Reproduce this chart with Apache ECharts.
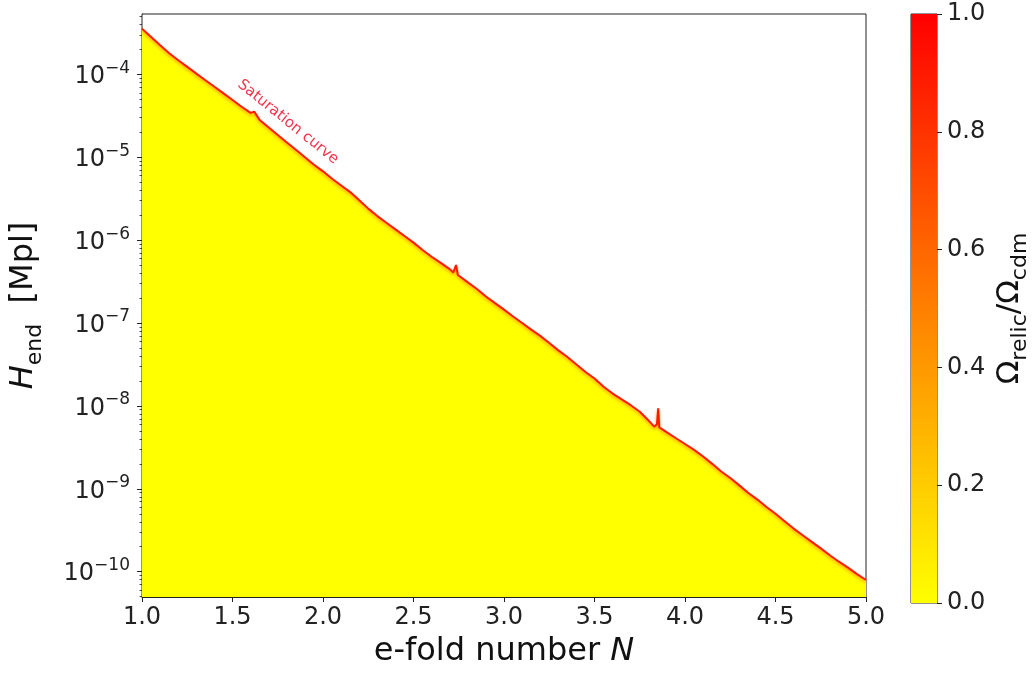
<!DOCTYPE html>
<html>
<head>
<meta charset="utf-8">
<script src="https://cdn.jsdelivr.net/npm/echarts@6/dist/echarts.min.js"></script>
<style>
html,body{margin:0;padding:0;background:#fff;}
#chart{width:1032px;height:673px;}
</style>
</head>
<body>
<div id="chart"></div>
<script>
// e-fold number N (x) and saturation curve H_end [Mpl] (y)
const efoldN = [1.00,1.05,1.10,1.15,1.20,1.25,1.30,1.35,1.40,1.45,1.50,1.55,1.60,1.62,1.65,1.70,1.75,1.80,1.85,1.90,1.95,
  2.00,2.05,2.10,2.15,2.20,2.25,2.30,2.35,2.40,2.45,2.50,2.55,2.60,2.65,2.70,2.72,2.735,2.745,2.80,2.85,2.90,2.95,
  3.00,3.05,3.10,3.15,3.20,3.25,3.30,3.35,3.40,3.45,3.50,3.55,3.60,3.65,3.70,3.75,3.80,3.83,3.845,3.852,3.858,3.90,3.95,
  4.00,4.05,4.10,4.15,4.20,4.25,4.30,4.35,4.40,4.45,4.50,4.55,4.60,4.65,4.70,4.75,4.80,4.85,4.90,4.95,5.00];
const hEnd = [3.55e-4,2.82e-4,2.24e-4,1.80e-4,1.48e-4,1.23e-4,1.02e-4,8.5e-5,7.08e-5,5.89e-5,4.90e-5,4.07e-5,3.43e-5,3.55e-5,2.82e-5,2.29e-5,1.86e-5,1.51e-5,1.23e-5,1.00e-5,8.13e-6,
  6.76e-6,5.50e-6,4.57e-6,3.80e-6,3.02e-6,2.40e-6,1.95e-6,1.62e-6,1.35e-6,1.12e-6,9.33e-7,7.59e-7,6.31e-7,5.31e-7,4.47e-7,4.07e-7,5.01e-7,3.80e-7,3.09e-7,2.57e-7,2.09e-7,1.74e-7,
  1.45e-7,1.20e-7,1.00e-7,8.32e-8,7.00e-8,5.75e-8,4.68e-8,3.89e-8,3.16e-8,2.57e-8,2.14e-8,1.70e-8,1.41e-8,1.20e-8,1.02e-8,8.51e-9,6.61e-9,5.62e-9,6.0e-9,9.33e-9,5.50e-9,4.79e-9,4.07e-9,
  3.47e-9,2.95e-9,2.45e-9,2.00e-9,1.62e-9,1.35e-9,1.10e-9,8.91e-10,7.41e-10,6.03e-10,5.01e-10,4.07e-10,3.31e-10,2.75e-10,2.29e-10,1.91e-10,1.58e-10,1.32e-10,1.12e-10,9.33e-11,7.94e-11];

const xRange = [1.0, 5.0];
const yRange = [4.95e-11, 5.35e-4];
const yMajorTicks = [1e-10,1e-9,1e-8,1e-7,1e-6,1e-5,1e-4];
const yMinorMultipliers = [2,3,4,5,6,7,8,9];
const colorbarRange = [0, 1];
const colorbarTicks = [0.0,0.2,0.4,0.6,0.8,1.0];
const curveLabel = 'Saturation curve';

const yMinorTicks = [];
yMajorTicks.concat([1e-11]).forEach(function(d){
  yMinorMultipliers.forEach(function(m){
    const v = m*d;
    if (v > yRange[0] && v < yRange[1]) yMinorTicks.push(v);
  });
});

const FONT = 'DejaVu Sans';
const curveData = efoldN.map(function(n,i){return [n, hEnd[i]];});

function supLabel(v){
  const e = Math.round(Math.log10(v));
  return '{b|10}{s|' + (e<0?'\u2212':'') + Math.abs(e) + '}';
}

const chart = echarts.init(document.getElementById('chart'), null, {renderer:'canvas'});
chart.setOption({
  animation:false,
  backgroundColor:'#fff',
  textStyle:{fontFamily:FONT},
  grid:[
    {left:141, right:166, top:14, bottom:69, show:true, borderColor:'#222', borderWidth:1, backgroundColor:'#fff', z:3},
    {left:911, width:30, top:14, bottom:70, show:true, borderColor:'#222', borderWidth:1}
  ],
  xAxis:[
    {type:'value', gridIndex:0, min:xRange[0], max:xRange[1], interval:0.5,
     axisLine:{show:true, onZero:false, lineStyle:{color:'#222', width:1}},
     axisTick:{show:true, length:5, lineStyle:{color:'#222'}},
     splitLine:{show:false},
     axisLabel:{margin:9, fontSize:24, color:'#222', fontFamily:FONT, formatter:function(v){return v.toFixed(1);}},
     name:'e-fold number {i|N}', nameLocation:'middle', nameGap:39,
     nameTextStyle:{fontSize:32, color:'#111', fontFamily:FONT, rich:{i:{fontSize:32, fontStyle:'italic', fontFamily:FONT, color:'#111'}}}
    },
    {type:'category', gridIndex:1, data:['c'], show:false, boundaryGap:true}
  ],
  yAxis:[
    {type:'log', gridIndex:0, logBase:10, min:yRange[0], max:yRange[1],
     axisLine:{show:true, lineStyle:{color:'#222', width:1}},
     axisTick:{show:true, length:5, customValues:yMajorTicks, lineStyle:{color:'#222'}},
     minorTick:{show:false},
     splitLine:{show:false},
     axisLabel:{margin:12, customValues:yMajorTicks, formatter:supLabel, color:'#222',
       rich:{
         b:{fontSize:24, fontFamily:FONT, color:'#222', verticalAlign:'bottom'},
         s:{fontSize:17, fontFamily:FONT, color:'#222', verticalAlign:'bottom', padding:[0,0,12,0]}
       }},
     name:'{i|H}{s|end}{b|  [Mpl]}', nameLocation:'middle', nameGap:96, nameRotate:90,
     nameTextStyle:{rich:{
       i:{fontSize:32, fontStyle:'italic', fontFamily:FONT, color:'#111', verticalAlign:'bottom', padding:[0,0,6,0]},
       s:{fontSize:22, fontFamily:FONT, color:'#111', verticalAlign:'bottom'},
       b:{fontSize:32, fontFamily:FONT, color:'#111', verticalAlign:'bottom', padding:[0,0,6,0]}
     }}
    },
    {type:'log', gridIndex:0, logBase:10, min:yRange[0], max:yRange[1], position:'left',
     axisLine:{show:false},
     axisTick:{show:true, length:2.5, customValues:yMinorTicks, lineStyle:{color:'#222', width:0.8}},
     axisLabel:{show:false}, splitLine:{show:false}
    },
    {type:'value', gridIndex:1, min:colorbarRange[0], max:colorbarRange[1], interval:0.2, position:'right',
     axisLine:{show:false},
     axisTick:{show:true, length:5, lineStyle:{color:'#222'}},
     splitLine:{show:false},
     axisLabel:{margin:10, fontSize:24, color:'#222', fontFamily:FONT, formatter:function(v){return v.toFixed(1);}},
     name:'{b|\u03A9}{s|relic}{b|/\u03A9}{s|cdm}', nameLocation:'middle', nameGap:57, nameRotate:90,
     nameTextStyle:{rich:{
       b:{fontSize:31, fontFamily:FONT, color:'#111', verticalAlign:'bottom', padding:[0,0,6,0]},
       s:{fontSize:22, fontFamily:FONT, color:'#111', verticalAlign:'bottom'}
     }}
    }
  ],
  series:[
    {type:'line', xAxisIndex:0, yAxisIndex:0, data:curveData, showSymbol:false, smooth:false, clip:true, z:4,
     lineStyle:{color:'#ff1a00', width:2, shadowColor:'rgba(255,150,0,0.9)', shadowBlur:3, shadowOffsetY:2},
     areaStyle:{color:'#ffff00', opacity:1, origin:'start'}
    },
    {type:'bar', xAxisIndex:1, yAxisIndex:2, data:[colorbarRange[1]], barWidth:'100%', silent:true,
     itemStyle:{color:new echarts.graphic.LinearGradient(0,0,0,1,[{offset:0,color:'#ff0000'},{offset:1,color:'#ffff00'}])}
    }
  ],
  graphic:[
    {type:'text', x:288, y:122, rotation:-0.68, z:10,
     style:{text:curveLabel, fill:'#f5344c', font:'15px "DejaVu Sans"', align:'center', verticalAlign:'middle'}}
  ]
});
</script>
</body>
</html>
